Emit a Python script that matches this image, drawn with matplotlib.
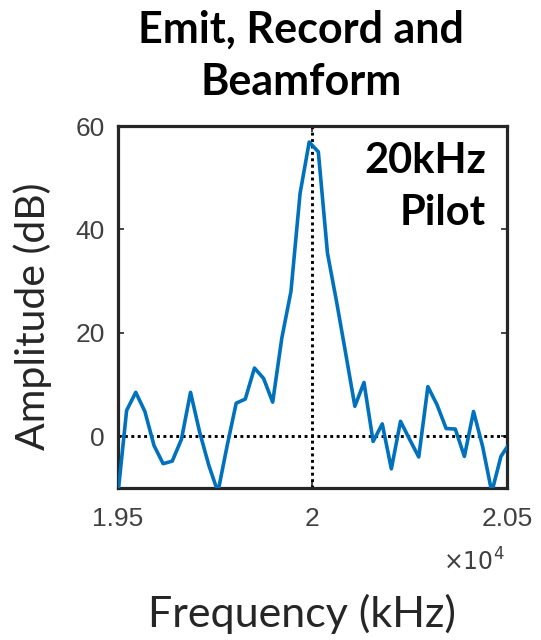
import matplotlib
matplotlib.use("Agg")
import matplotlib.pyplot as plt
from matplotlib.ticker import FuncFormatter

# Frequency bins (Hz) and amplitude (dB)
freqs = [19500.0, 19523.4, 19546.9, 19570.3, 19593.8, 19617.2, 19640.6, 19664.1,
         19687.5, 19710.9, 19734.4, 19757.8, 19781.3, 19804.7, 19828.1, 19851.6,
         19875.0, 19898.4, 19921.9, 19945.3, 19968.8, 19992.2, 20015.6, 20039.1,
         20062.5, 20085.9, 20109.4, 20132.8, 20156.3, 20179.7, 20203.1, 20226.6,
         20250.0, 20273.4, 20296.9, 20320.3, 20343.8, 20367.2, 20390.6, 20414.1,
         20437.5, 20460.9, 20484.4, 20507.8]
amplitude = [-12.0, 5.0, 8.5, 4.8, -1.8, -5.3, -4.8, -0.6,
             8.5, 0.8, -5.6, -10.8, -1.9, 6.4, 7.2, 13.2,
             11.2, 6.6, 19.0, 28.0, 47.0, 56.9, 55.0, 35.4,
             26.0, 16.0, 5.8, 10.4, -1.0, 2.4, -6.3, 2.9,
             -0.6, -4.0, 9.6, 6.1, 1.5, 1.4, -3.9, 4.8,
             -2.0, -10.8, -3.9, -1.2]
xticks = [19500, 20000, 20500]
yticks = [0, 20, 40, 60]
pilot_freq = 20000
title_lines = ["Emit, Record and", "Beamform"]
annotation_lines = ["20kHz", "Pilot"]

W, H = 541, 640
fig = plt.figure(figsize=(W / 100, H / 100), dpi=100)
ax = fig.add_axes([117.5 / W, 1 - 488 / H, (507 - 117.5) / W, (488 - 126) / H])

ax.plot(freqs, amplitude, color="#0072BD", lw=2.6, zorder=3)
ax.axvline(pilot_freq, color="black", lw=2.1, linestyle=(0, (1, 1.2)), zorder=2)
ax.axhline(0, color="black", lw=2.1, linestyle=(0, (1, 1.2)), zorder=2)

ax.set_xlim(19500, 20500)
ax.set_ylim(-10, 60)
ax.set_xticks(xticks)
ax.set_yticks(yticks)
ax.xaxis.set_major_formatter(FuncFormatter(lambda v, p: f"{v / 1e4:g}"))

tick_color = "#404040"
ax.tick_params(direction="in", length=4, width=1.2, top=True, right=True,
               colors="#262626", labelcolor=tick_color, labelsize=19)
ax.tick_params(axis="x", pad=14)
ax.tick_params(axis="y", pad=9)
for lab in ax.get_xticklabels() + ax.get_yticklabels():
    lab.set_fontfamily("Liberation Sans")
for s in ax.spines.values():
    s.set_linewidth(2.3)
    s.set_color("#262626")

# title (two lines, baselines placed)
for txt, base in zip(title_lines, [43, 95]):
    fig.text(301 / W, 1 - base / H, txt, ha="center", va="baseline",
             fontsize=31, fontweight="bold", family="Lato")

# annotation inside axes
for txt, base in zip(annotation_lines, [173, 225]):
    fig.text(486 / W, 1 - base / H, txt, ha="right", va="baseline",
             fontsize=30, fontweight="bold", family="Lato")

# axis labels
fig.text(33 / W, 1 - 316 / H, "Amplitude (dB)", rotation=90, ha="center", va="center",
         fontsize=29.5, family="Lato", color="#262626")
fig.text(302 / W, 1 - 627 / H, "Frequency (kHz)", ha="center", va="baseline",
         fontsize=31, family="Lato", color="#262626")
fig.text(505 / W, 1 - 562 / H, r"$\times10^{4}$", ha="right", va="center",
         fontsize=17, color=tick_color, family="Liberation Sans")

fig.savefig("out.png", dpi=100)
